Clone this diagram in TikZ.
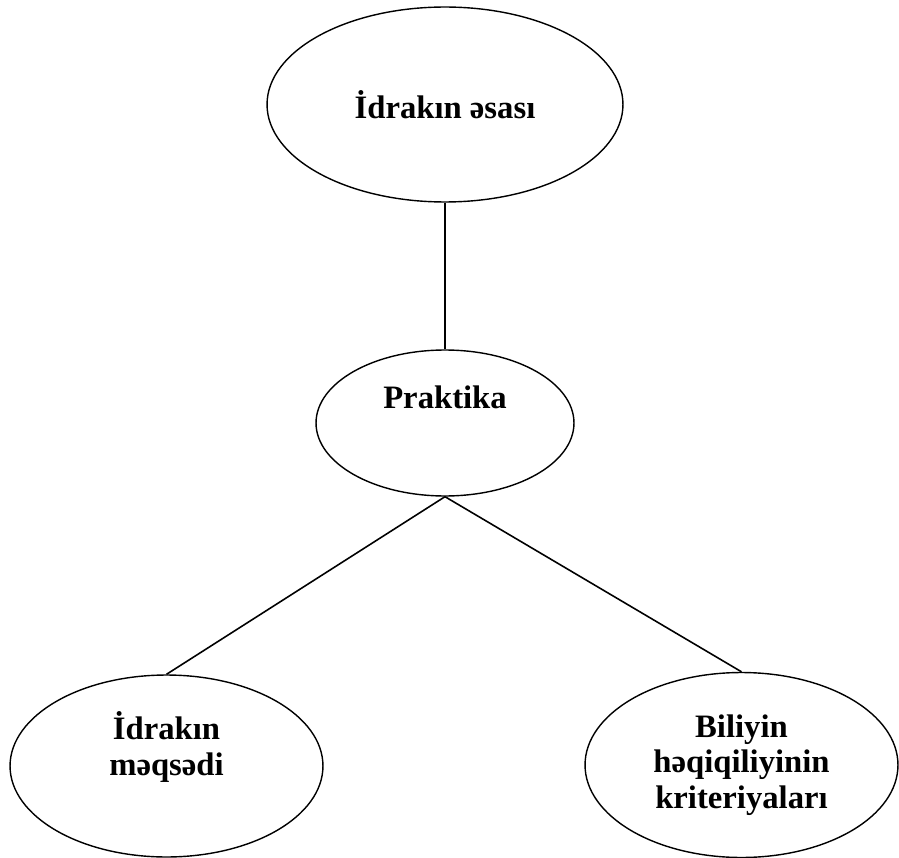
\documentclass[tikz,border=0pt]{standalone}
\usepackage{fontspec}
\setmainfont{Liberation Serif}
\usepackage{tikz}
\usetikzlibrary{shapes.geometric}
\tikzset{
  oval/.style = {ellipse, draw=black, line width=0.8pt, fill=white, align=center,
                 inner sep=0pt, font=\fontsize{18.6pt}{20.2pt}\selectfont\bfseries},
  link/.style = {draw=black, line width=0.9pt}
}

\begin{document}
\begin{tikzpicture}[x=0.02cm, y=-0.02cm]
  \useasboundingbox (0,0) rectangle (899,858);
  \node[oval, minimum width=7.12cm, minimum height=3.9cm] (osas) at (445,104.5) {İdrakın əsası};
  \node[oval, minimum width=5.16cm, minimum height=2.92cm, text depth=1.02cm] (prak) at (445,423) {Praktika};
  \node[oval, minimum width=6.26cm, minimum height=3.64cm, text depth=0.9cm] (meqs) at (166.5,766) {İdrakın\\məqsədi};
  \node[oval, minimum width=6.26cm, minimum height=3.7cm] (krit) at (741.5,765) {Biliyin\\həqiqiliyinin\\kriteriyaları};
  \draw[link] (osas.south) -- (prak.north);
  \foreach \x in {meqs,krit} \draw[link] (prak.south) -- (\x.north);
\end{tikzpicture}
\end{document}
